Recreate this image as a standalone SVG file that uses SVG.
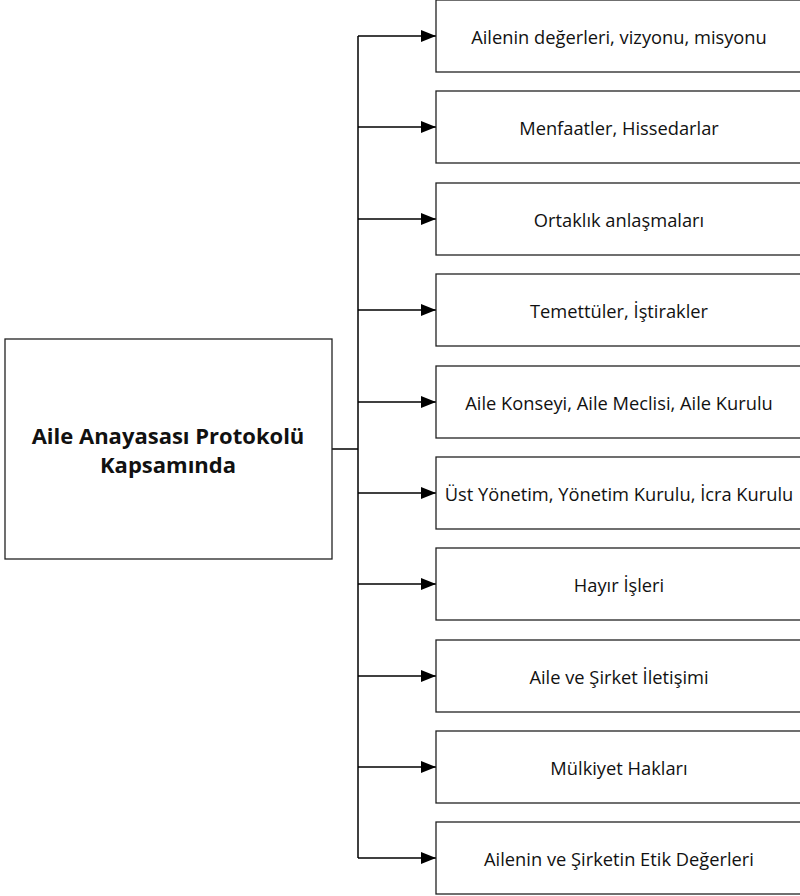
<svg xmlns="http://www.w3.org/2000/svg" width="800" height="896" viewBox="0 0 800 896">
<style>
.box{fill:#fff;stroke:#222;stroke-width:1.3}
.t{font-family:"Open Sans","Liberation Sans",sans-serif;font-size:18.3px;fill:#111;text-anchor:middle;dominant-baseline:central}
.tb{font-family:"Open Sans","Liberation Sans",sans-serif;font-size:22px;font-weight:bold;fill:#111;text-anchor:middle;dominant-baseline:central}
.c{fill:none;stroke:#000;stroke-width:1.5}
</style>
<defs>
<marker id="ah" markerWidth="16" markerHeight="12" refX="15" refY="6" orient="auto" markerUnits="userSpaceOnUse">
<path d="M0,0 L15,6 L0,12 Z" fill="#000"/>
</marker>
</defs>
<g id="connectors">
<path class="c" d="M332,449 H358"/>
<path class="c" d="M358,36 V858"/>
<path class="c" d="M358,36 H436" marker-end="url(#ah)"/>
<path class="c" d="M358,127 H436" marker-end="url(#ah)"/>
<path class="c" d="M358,219 H436" marker-end="url(#ah)"/>
<path class="c" d="M358,310 H436" marker-end="url(#ah)"/>
<path class="c" d="M358,402 H436" marker-end="url(#ah)"/>
<path class="c" d="M358,493 H436" marker-end="url(#ah)"/>
<path class="c" d="M358,584 H436" marker-end="url(#ah)"/>
<path class="c" d="M358,676 H436" marker-end="url(#ah)"/>
<path class="c" d="M358,767 H436" marker-end="url(#ah)"/>
<path class="c" d="M358,858 H436" marker-end="url(#ah)"/>
</g>
<g id="root"><rect class="box" x="5" y="339" width="327" height="220"/>
<text class="tb" x="168" y="435">Aile Anayasası Protokolü</text>
<text class="tb" x="168" y="464">Kapsamında</text></g>
<g id="n1"><rect class="box" x="436" y="0" width="366" height="72"/><text class="t" x="619" y="36">Ailenin değerleri, vizyonu, misyonu</text></g>
<g id="n2"><rect class="box" x="436" y="91" width="366" height="72"/><text class="t" x="619" y="127">Menfaatler, Hissedarlar</text></g>
<g id="n3"><rect class="box" x="436" y="183" width="366" height="72"/><text class="t" x="619" y="219">Ortaklık anlaşmaları</text></g>
<g id="n4"><rect class="box" x="436" y="274" width="366" height="72"/><text class="t" x="619" y="310">Temettüler, İştirakler</text></g>
<g id="n5"><rect class="box" x="436" y="366" width="366" height="72"/><text class="t" x="619" y="402">Aile Konseyi, Aile Meclisi, Aile Kurulu</text></g>
<g id="n6"><rect class="box" x="436" y="457" width="366" height="72"/><text class="t" x="619" y="493">Üst Yönetim, Yönetim Kurulu, İcra Kurulu</text></g>
<g id="n7"><rect class="box" x="436" y="548" width="366" height="72"/><text class="t" x="619" y="584">Hayır İşleri</text></g>
<g id="n8"><rect class="box" x="436" y="640" width="366" height="72"/><text class="t" x="619" y="676">Aile ve Şirket İletişimi</text></g>
<g id="n9"><rect class="box" x="436" y="731" width="366" height="72"/><text class="t" x="619" y="767">Mülkiyet Hakları</text></g>
<g id="n10"><rect class="box" x="436" y="822" width="366" height="72"/><text class="t" x="619" y="858">Ailenin ve Şirketin Etik Değerleri</text></g>
</svg>
